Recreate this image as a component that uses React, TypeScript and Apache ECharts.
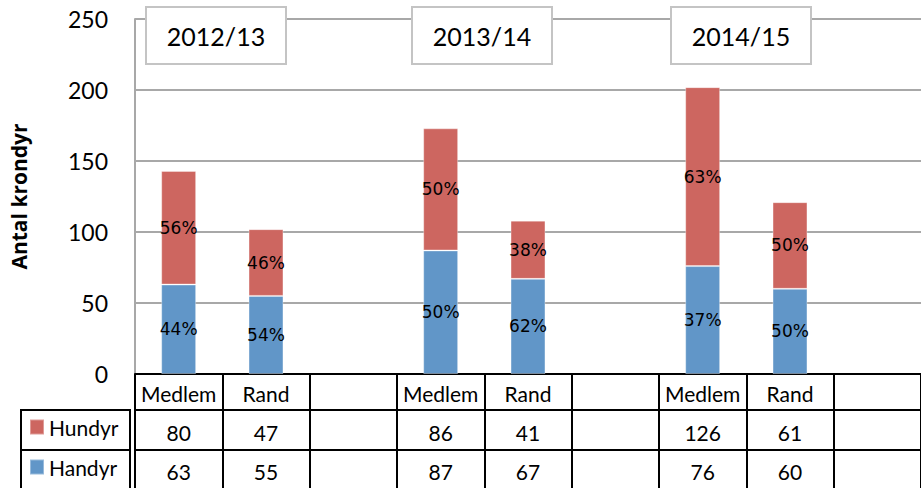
import React, { useEffect, useRef } from "react";
import * as echarts from "echarts";

const categories = ["Medlem", "Rand", "", "Medlem", "Rand", "", "Medlem", "Rand", ""];
const hundyr: (number | null)[] = [80, 47, null, 86, 41, null, 126, 61, null];
const handyr: (number | null)[] = [63, 55, null, 87, 67, null, 76, 60, null];
const hundyrPct = ["56%", "46%", "", "50%", "38%", "", "63%", "50%", ""];
const handyrPct = ["44%", "54%", "", "50%", "62%", "", "37%", "50%", ""];
const seasons = ["2012/13", "2013/14", "2014/15"];
const yTicks = { min: 0, max: 250, interval: 50 };

const RED = "#CD6660";
const BLUE = "#6196C8";
const FONT = "Lato";

export default function App() {
  const ref = useRef<HTMLDivElement>(null);
  useEffect(() => {
    if (!ref.current) return;
    const chart = echarts.init(ref.current, null, { renderer: "svg" });
    const tableAxis = (offset: number, data: string[], margin: number, tickLen: number) => ({
      type: "category",
      gridIndex: 0,
      position: "bottom",
      offset,
      data,
      axisLine: { show: true, lineStyle: { color: "#000", width: 2 } },
      axisTick: { show: true, alignWithLabel: false, interval: 0, length: tickLen, lineStyle: { color: "#000", width: 2 } },
      axisLabel: {
        interval: 0,
        margin,
        verticalAlign: "middle",
        fontFamily: FONT,
        fontSize: 21,
        color: "#000",
      },
      splitLine: { show: false },
    });
    const boxX = [146, 412, 671];
    const graphic: any[] = [];
    seasons.forEach((s, i) => {
      graphic.push({
        type: "rect",
        z: 100,
        shape: { x: boxX[i], y: 7, width: 140, height: 57 },
        style: { fill: "#fff", stroke: "#c4c4c4", lineWidth: 2 },
      });
      graphic.push({
        type: "text",
        z: 101,
        x: boxX[i] + 70,
        y: 36,
        style: { text: s, fontFamily: FONT, fontSize: 25, fill: "#000", align: "center", verticalAlign: "middle" },
      });
    });
    const lineStyle = { stroke: "#000", lineWidth: 2 };
    graphic.push({ type: "line", z: 50, shape: { x1: 20, y1: 410, x2: 131, y2: 410 }, style: lineStyle });
    graphic.push({ type: "line", z: 50, shape: { x1: 20, y1: 450, x2: 131, y2: 450 }, style: lineStyle });
    graphic.push({ type: "line", z: 50, shape: { x1: 21, y1: 409, x2: 21, y2: 490 }, style: lineStyle });
    graphic.push({ type: "line", z: 50, shape: { x1: 130, y1: 409, x2: 130, y2: 490 }, style: lineStyle });

    const pctLabel = (arr: string[]) => ({
      show: true,
      position: "inside",
      fontFamily: "DejaVu Sans",
      fontSize: 17,
      color: "#000",
      formatter: (p: any) => arr[p.dataIndex],
    });

    chart.setOption({
      animation: false,
      grid: { left: 130, top: 19, width: 797, height: 355, containLabel: false },
      legend: {
        orient: "vertical",
        left: 29,
        top: 416,
        padding: 0,
        itemWidth: 14,
        itemHeight: 15,
        itemGap: 18,
        icon: "rect",
        data: ["Hundyr", "Handyr"],
        textStyle: { fontFamily: FONT, fontSize: 21, color: "#000", lineHeight: 22 },
      },
      xAxis: [
        tableAxis(0, categories, 19, 36),
        tableAxis(36, hundyr.map((v) => (v == null ? "" : String(v))), 22, 40),
        tableAxis(76, handyr.map((v) => (v == null ? "" : String(v))), 21, 40),
      ],
      yAxis: {
        type: "value",
        min: yTicks.min,
        max: yTicks.max,
        interval: yTicks.interval,
        name: "Antal krondyr",
        nameLocation: "middle",
        nameRotate: 90,
        nameGap: 106,
        nameTextStyle: { fontFamily: "Open Sans", fontSize: 21, fontWeight: "bold", color: "#000" },
        axisLine: { show: true, lineStyle: { color: "#a8a8a8", width: 2 } },
        axisTick: { show: false },
        axisLabel: { margin: 27, fontFamily: FONT, fontSize: 23, color: "#000" },
        splitLine: { show: true, lineStyle: { color: "#a8a8a8", width: 2 } },
      },
      series: [
        {
          name: "Handyr",
          type: "bar",
          stack: "total",
          xAxisIndex: 0,
          barWidth: "40%",
          data: handyr.map((v) => (v == null ? "-" : v)),
          itemStyle: { color: BLUE, borderColor: "rgba(255,255,255,0.35)", borderWidth: 1 },
          label: pctLabel(handyrPct),
        },
        {
          name: "Hundyr",
          type: "bar",
          stack: "total",
          xAxisIndex: 0,
          barWidth: "40%",
          data: hundyr.map((v) => (v == null ? "-" : v)),
          itemStyle: { color: RED, borderColor: "rgba(255,255,255,0.35)", borderWidth: 1 },
          label: pctLabel(hundyrPct),
        },
      ],
      graphic,
    });
    return () => chart.dispose();
  }, []);
  return (
    <div
      ref={ref}
      style={{ position: "fixed", left: 0, top: 0, width: 921, height: 488, background: "#fff" }}
    />
  );
}
